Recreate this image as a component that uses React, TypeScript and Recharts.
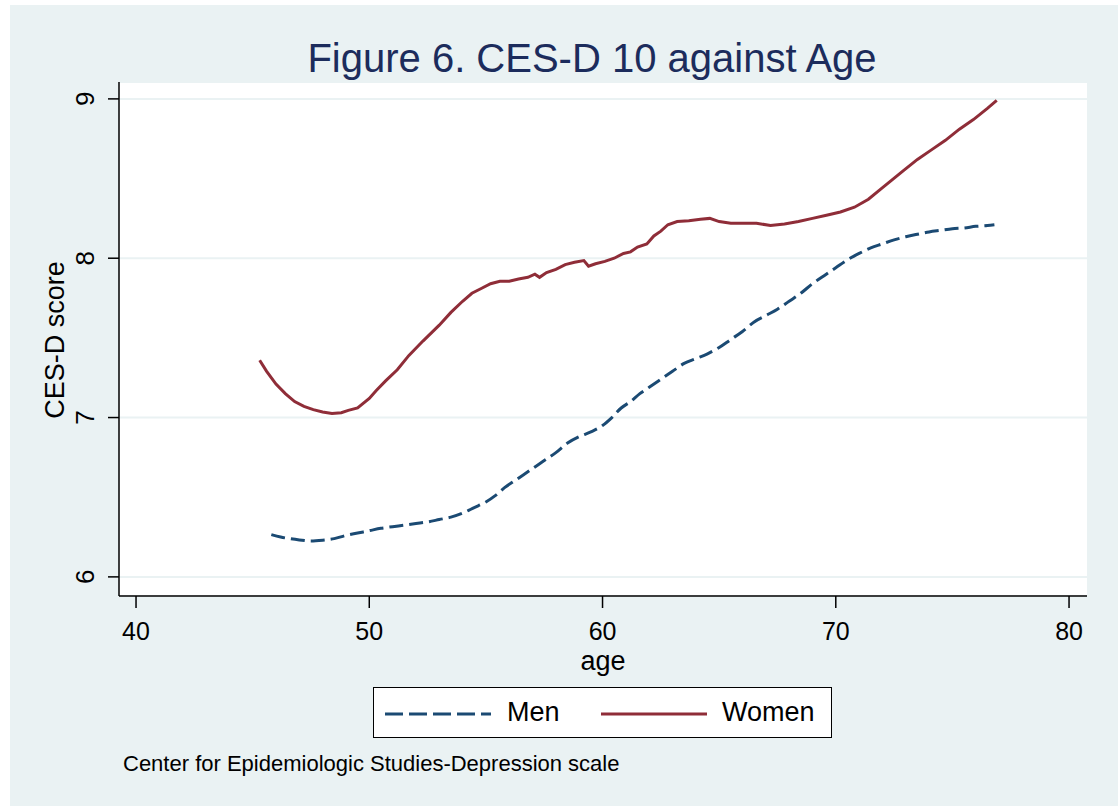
import { LineChart, Line, XAxis, YAxis, CartesianGrid } from 'recharts';

const menAge = [45.8, 46.2, 46.6, 47.0, 47.5, 48.0, 48.5, 49.0, 49.5, 50.0, 50.5, 51.0, 51.5, 52.0, 52.5, 53.0, 53.5, 54.0, 54.5, 55.0, 55.4, 55.8, 56.2, 56.6, 57.0, 57.5, 58.0, 58.5, 59.0, 59.5, 60.0, 60.4, 60.8, 61.2, 61.6, 62.0, 62.5, 63.0, 63.5, 64.0, 64.5, 65.0, 65.5, 66.0, 66.5, 67.0, 67.5, 68.0, 68.5, 69.0, 69.5, 70.0, 70.5, 71.0, 71.5, 72.0, 72.5, 73.0, 73.5, 74.0, 74.5, 75.0, 75.5, 76.0, 76.5, 76.8];
const menScore = [6.265, 6.25, 6.24, 6.232, 6.225, 6.23, 6.24, 6.26, 6.275, 6.29, 6.305, 6.315, 6.325, 6.335, 6.345, 6.36, 6.375, 6.4, 6.435, 6.47, 6.51, 6.56, 6.6, 6.64, 6.68, 6.73, 6.78, 6.84, 6.88, 6.91, 6.95, 7.0, 7.06, 7.1, 7.15, 7.19, 7.24, 7.29, 7.34, 7.37, 7.4, 7.44, 7.49, 7.54, 7.6, 7.64, 7.68, 7.73, 7.78, 7.84, 7.89, 7.94, 7.99, 8.03, 8.065, 8.09, 8.115, 8.135, 8.15, 8.165, 8.175, 8.185, 8.19, 8.2, 8.205, 8.21];

const womenAge = [45.3, 45.6, 46.0, 46.4, 46.8, 47.2, 47.6, 48.0, 48.4, 48.8, 49.1, 49.5, 50.0, 50.3, 50.7, 51.2, 51.7, 52.3, 53.0, 53.5, 54.0, 54.4, 54.8, 55.2, 55.6, 56.0, 56.4, 56.8, 57.1, 57.3, 57.6, 58.0, 58.4, 58.8, 59.2, 59.4, 59.7, 60.1, 60.5, 60.9, 61.2, 61.5, 61.9, 62.2, 62.5, 62.8, 63.2, 63.7, 64.2, 64.6, 65.0, 65.5, 66.0, 66.6, 67.2, 67.8, 68.4, 69.0, 69.6, 70.2, 70.8, 71.4, 71.9, 72.4, 72.9, 73.5, 74.1, 74.7, 75.3, 75.9, 76.5, 76.9];
const womenScore = [7.36, 7.29, 7.21, 7.15, 7.1, 7.07, 7.05, 7.035, 7.025, 7.03, 7.045, 7.06, 7.12, 7.17, 7.23, 7.3, 7.39, 7.48, 7.58, 7.66, 7.73, 7.78, 7.81, 7.84, 7.855, 7.855, 7.87, 7.88, 7.9, 7.88, 7.91, 7.93, 7.96, 7.975, 7.985, 7.95, 7.965, 7.98, 8.0, 8.03, 8.04, 8.07, 8.09, 8.14, 8.17, 8.21, 8.23, 8.235, 8.245, 8.25, 8.23, 8.22, 8.22, 8.22, 8.205, 8.215, 8.23, 8.25, 8.27, 8.29, 8.32, 8.37, 8.43, 8.49, 8.55, 8.62, 8.68, 8.74, 8.81, 8.87, 8.94, 8.99];

const xTicks = [40, 50, 60, 70, 80];
const yTicks = [6, 7, 8, 9];

const menData = menAge.map((age, i) => ({ age, score: menScore[i] }));
const womenData = womenAge.map((age, i) => ({ age, score: womenScore[i] }));

const FONT = 'Arial, "Liberation Sans", Helvetica, sans-serif';
const BG = '#EAF2F3';
const MEN = '#1B4A73';
const WOMEN = '#8F2D38';

const XTick = ({ x, y, payload }: any) => (
  <text x={x} y={y + 30} textAnchor="middle" fontSize={25} fontFamily={FONT} fill="#000">
    {payload.value}
  </text>
);

const YTick = ({ x, y, payload }: any) => (
  <text
    x={x - 12}
    y={y}
    transform={`rotate(-90 ${x - 12} ${y})`}
    textAnchor="middle"
    fontSize={26}
    fontFamily={FONT}
    fill="#000"
  >
    {payload.value}
  </text>
);

export default function App() {
  return (
    <div style={{ position: 'relative', width: 1118, height: 806, background: '#fff', fontFamily: FONT }}>
      <style>{'body{margin:0}'}</style>
      <div style={{ position: 'absolute', left: 10, top: 5, width: 1108, height: 801, background: BG }} />
      <div style={{ position: 'absolute', left: 0, top: 0 }}>
        <LineChart width={1118} height={806} margin={{ top: 82, right: 31, bottom: 170, left: 59 }}>
          <CartesianGrid vertical={false} stroke={BG} strokeWidth={2} fill="#fff" fillOpacity={1} />
          <XAxis
            type="number"
            dataKey="age"
            domain={[39.27, 80.77]}
            ticks={xTicks}
            allowDataOverflow
            height={40}
            tickSize={12}
            axisLine={{ stroke: '#000', strokeWidth: 1.5 }}
            tickLine={{ stroke: '#000', strokeWidth: 1.5 }}
            tick={<XTick />}
          />
          <YAxis
            type="number"
            domain={[5.88, 9.106]}
            ticks={yTicks}
            allowDataOverflow
            width={60}
            tickSize={11}
            axisLine={{ stroke: '#000', strokeWidth: 1.5 }}
            tickLine={{ stroke: '#000', strokeWidth: 1.5 }}
            tick={<YTick />}
          />
          <Line
            data={menData}
            dataKey="score"
            type="monotone"
            stroke={MEN}
            strokeWidth={3}
            strokeDasharray="14 6"
            dot={false}
            isAnimationActive={false}
          />
          <Line
            data={womenData}
            dataKey="score"
            type="linear"
            stroke={WOMEN}
            strokeWidth={3}
            dot={false}
            isAnimationActive={false}
          />
        </LineChart>
      </div>

      <div style={{ position: 'absolute', left: 0, width: 1184, top: 34, textAlign: 'center', fontSize: 40, color: '#1C2C5C', lineHeight: '48px', whiteSpace: 'nowrap' }}>
        Figure 6. CES-D 10 against Age
      </div>

      <div style={{ position: 'absolute', left: 55, top: 340, width: 0, height: 0 }}>
        <div style={{ position: 'absolute', left: -150, top: -16, width: 300, textAlign: 'center', fontSize: 27, lineHeight: '32px', transform: 'rotate(-90deg)', color: '#000' }}>
          CES-D score
        </div>
      </div>

      <div style={{ position: 'absolute', left: 503, width: 200, top: 650, textAlign: 'center', fontSize: 27, lineHeight: '22px', color: '#000' }}>
        age
      </div>

      <div style={{ position: 'absolute', left: 373, top: 687, width: 457, height: 49, background: '#fff', border: '1.5px solid #000' }}>
        <svg width={457} height={49} style={{ position: 'absolute', left: 0, top: 0 }}>
          <line x1={11} y1={26} x2={117} y2={26} stroke={MEN} strokeWidth={3} strokeDasharray="18 6" />
          <line x1={227} y1={26} x2={333} y2={26} stroke={WOMEN} strokeWidth={3} />
        </svg>
        <div style={{ position: 'absolute', left: 133, top: 8, fontSize: 27, lineHeight: '32px', color: '#000' }}>Men</div>
        <div style={{ position: 'absolute', left: 348, top: 8, fontSize: 27, lineHeight: '32px', color: '#000' }}>Women</div>
      </div>

      <div style={{ position: 'absolute', left: 123, top: 750, fontSize: 22, lineHeight: '28px', color: '#000', whiteSpace: 'nowrap' }}>
        Center for Epidemiologic Studies-Depression scale
      </div>
    </div>
  );
}
